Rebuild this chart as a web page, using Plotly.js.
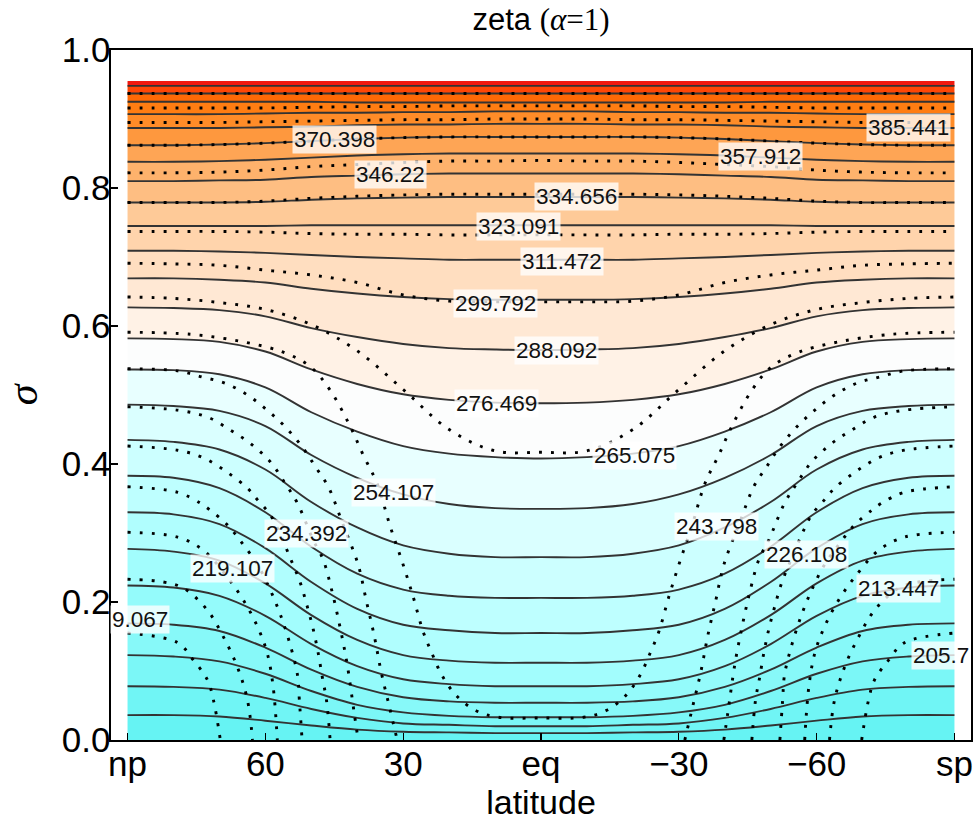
<!DOCTYPE html>
<html>
<head>
<meta charset="utf-8">
<script src="https://cdn.plot.ly/plotly-3.0.1.min.js"></script>
<style>html,body{margin:0;padding:0;background:#fff;}</style>
</head>
<body>
<div id="chart" style="width:977px;height:827px;"></div>
<script>
// ---------- data ----------
const lats = [90,80,70,60,50,40,30,20,10,0,-10,-20,-30,-40,-50,-60,-70,-80,-90];
const sigmaTop    = [0.955,0.955,0.955,0.955,0.955,0.955,0.955,0.955,0.955,0.955,0.955,0.955,0.955,0.955,0.955,0.955,0.955,0.955,0.955];
const sigmaBottom = [0,0,0,0,0,0,0,0,0,0,0,0,0,0,0,0,0,0,0];

// solid contours (zeta), top to bottom
const solid01 = [0.948,0.948,0.948,0.948,0.948,0.948,0.948,0.948,0.948,0.948,0.948,0.948,0.948,0.948,0.948,0.948,0.948,0.948,0.948];
const solid02 = [0.937,0.937,0.937,0.937,0.937,0.937,0.937,0.937,0.937,0.937,0.937,0.937,0.937,0.937,0.937,0.937,0.937,0.937,0.937];
const solid03 = [0.925,0.925,0.925,0.925,0.925,0.924,0.924,0.924,0.924,0.924,0.924,0.924,0.924,0.924,0.925,0.925,0.925,0.925,0.925];
const solid04 = [0.907,0.907,0.907,0.908,0.909,0.909,0.910,0.910,0.911,0.911,0.911,0.910,0.910,0.909,0.909,0.908,0.907,0.907,0.907];
const solid05 = [0.887,0.887,0.887,0.888,0.889,0.891,0.892,0.892,0.893,0.893,0.893,0.892,0.892,0.891,0.889,0.888,0.887,0.887,0.887];
const solid06 = [0.862,0.862,0.863,0.865,0.868,0.871,0.873,0.874,0.874,0.874,0.874,0.874,0.873,0.871,0.868,0.865,0.863,0.862,0.862];
const solid07 = [0.838,0.838,0.839,0.841,0.844,0.847,0.849,0.850,0.850,0.850,0.850,0.850,0.849,0.847,0.844,0.841,0.839,0.838,0.838];
const solid08 = [0.810,0.810,0.811,0.812,0.816,0.818,0.820,0.821,0.821,0.821,0.821,0.821,0.820,0.818,0.816,0.812,0.811,0.810,0.810];
const solid09 = [0.779,0.779,0.779,0.780,0.783,0.785,0.786,0.787,0.787,0.787,0.787,0.787,0.786,0.785,0.783,0.780,0.779,0.779,0.779];
const solid10 = [0.745,0.745,0.745,0.745,0.746,0.746,0.746,0.746,0.746,0.746,0.746,0.746,0.746,0.746,0.746,0.745,0.745,0.745,0.745];
const solid11 = [0.709,0.709,0.708,0.706,0.703,0.700,0.698,0.696,0.696,0.696,0.696,0.696,0.698,0.700,0.703,0.706,0.708,0.709,0.709];
const solid12 = [0.669,0.669,0.667,0.663,0.654,0.647,0.642,0.639,0.638,0.638,0.638,0.639,0.642,0.647,0.654,0.663,0.667,0.669,0.669];
const solid13 = [0.627,0.626,0.623,0.614,0.597,0.584,0.574,0.568,0.566,0.565,0.566,0.568,0.574,0.584,0.597,0.614,0.623,0.626,0.627];
const solid14 = [0.582,0.581,0.577,0.563,0.537,0.516,0.501,0.493,0.489,0.488,0.489,0.493,0.501,0.516,0.537,0.563,0.577,0.581,0.582];
const solid15 = [0.537,0.536,0.530,0.511,0.475,0.447,0.426,0.415,0.410,0.408,0.410,0.415,0.426,0.447,0.475,0.511,0.530,0.536,0.537];
const solid16 = [0.486,0.484,0.477,0.455,0.413,0.380,0.356,0.342,0.336,0.335,0.336,0.342,0.356,0.380,0.413,0.455,0.477,0.484,0.486];
const solid17 = [0.435,0.432,0.421,0.392,0.345,0.308,0.282,0.270,0.265,0.265,0.265,0.270,0.282,0.308,0.345,0.392,0.421,0.432,0.435];
const solid18 = [0.383,0.380,0.365,0.330,0.280,0.241,0.218,0.209,0.206,0.206,0.206,0.209,0.218,0.241,0.280,0.330,0.365,0.380,0.383];
const solid19 = [0.330,0.327,0.313,0.278,0.229,0.190,0.167,0.159,0.155,0.155,0.155,0.159,0.167,0.190,0.229,0.278,0.313,0.327,0.330];
const solid20 = [0.277,0.273,0.260,0.227,0.181,0.145,0.123,0.115,0.112,0.112,0.112,0.115,0.123,0.145,0.181,0.227,0.260,0.273,0.277];
const solid21 = [0.224,0.221,0.209,0.180,0.139,0.107,0.088,0.081,0.078,0.078,0.078,0.081,0.088,0.107,0.139,0.180,0.209,0.221,0.224];
const solid22 = [0.169,0.167,0.158,0.134,0.102,0.077,0.062,0.056,0.054,0.054,0.054,0.056,0.062,0.077,0.102,0.134,0.158,0.167,0.169];
const solid23 = [0.123,0.121,0.114,0.096,0.071,0.051,0.040,0.035,0.033,0.033,0.033,0.035,0.040,0.051,0.071,0.096,0.114,0.121,0.123];
const solid24 = [0.078,0.077,0.073,0.061,0.045,0.032,0.024,0.022,0.020,0.020,0.020,0.022,0.024,0.032,0.045,0.061,0.073,0.077,0.078];
const solid25 = [0.036,0.036,0.034,0.028,0.021,0.015,0.012,0.011,0.010,0.010,0.010,0.011,0.012,0.015,0.021,0.028,0.034,0.036,0.036];

// dotted contours on the common latitude grid
const dot01 = [0.937,0.937,0.937,0.937,0.937,0.937,0.937,0.937,0.937,0.937,0.937,0.937,0.937,0.937,0.937,0.937,0.937,0.937,0.937];
const dot02 = [0.916,0.916,0.916,0.916,0.917,0.918,0.918,0.919,0.919,0.919,0.919,0.919,0.918,0.918,0.917,0.916,0.916,0.916,0.916];
const dot03 = [0.895,0.895,0.895,0.896,0.897,0.898,0.899,0.899,0.900,0.900,0.900,0.899,0.899,0.898,0.897,0.896,0.895,0.895,0.895];
const dot04 = [0.862,0.862,0.863,0.865,0.868,0.871,0.873,0.874,0.874,0.874,0.874,0.874,0.873,0.871,0.868,0.865,0.863,0.862,0.862];
const dot05 = [0.822,0.822,0.823,0.826,0.831,0.834,0.837,0.839,0.839,0.840,0.839,0.839,0.837,0.834,0.831,0.826,0.823,0.822,0.822];
const dot06 = [0.779,0.779,0.779,0.781,0.785,0.788,0.790,0.791,0.791,0.791,0.791,0.791,0.790,0.788,0.785,0.781,0.779,0.779,0.779];
const dot07 = [0.737,0.737,0.737,0.736,0.734,0.733,0.733,0.732,0.732,0.732,0.732,0.732,0.733,0.733,0.734,0.736,0.737,0.737,0.737];
const dot08 = [0.691,0.690,0.688,0.681,0.674,0.663,0.645,0.636,0.635,0.635,0.635,0.636,0.645,0.663,0.674,0.681,0.688,0.690,0.691];
const dot09 = [0.642,0.640,0.634,0.624,0.602,0.564,0.508,0.450,0.419,0.417,0.419,0.450,0.508,0.564,0.602,0.624,0.634,0.640,0.642];

// dotted contours with their own latitude points
const dot10Lat = [90,76.3,64.8,56.1,50.2,45.9,41.5,38.7,35.7,32.8,30.2,27.8,25.7,23.7,21.5,18.5,14.3,9.3,0,-9.3,-14.3,-18.5,-21.5,-23.7,-25.7,-27.8,-30.2,-32.8,-35.7,-38.7,-41.5,-45.9,-50.2,-56.1,-64.8,-76.3,-90];
const dot10Sig = [0.591,0.588,0.577,0.562,0.541,0.507,0.454,0.413,0.372,0.309,0.258,0.207,0.158,0.125,0.093,0.065,0.043,0.033,0.032,0.033,0.043,0.065,0.093,0.125,0.158,0.207,0.258,0.309,0.372,0.413,0.454,0.507,0.541,0.562,0.577,0.588,0.591];
const dot11Lat = [90,79.1,73.7,68.7,63.9,59.6,55.7,52.0,49.1,46.3,43.3,39.8,38.0,36.3,34.8,33.0,31.3,null,-31.3,-33.0,-34.8,-36.3,-38.0,-39.8,-43.3,-46.3,-49.1,-52.0,-55.7,-59.6,-63.9,-68.7,-73.7,-79.1,-90];
const dot11Sig = [0.538,0.535,0.526,0.517,0.500,0.478,0.454,0.425,0.396,0.367,0.316,0.254,0.201,0.151,0.099,0.048,0,null,0,0.048,0.099,0.151,0.201,0.254,0.316,0.367,0.396,0.425,0.454,0.478,0.500,0.517,0.526,0.535,0.538];
const dot12Lat = [90,79.1,72.6,67.6,63.3,58.9,55.7,53.0,49.6,47.4,45.4,43.7,42.2,40.7,39.8,null,-39.8,-40.7,-42.2,-43.7,-45.4,-47.4,-49.6,-53.0,-55.7,-58.9,-63.3,-67.6,-72.6,-79.1,-90];
const dot12Sig = [0.483,0.478,0.468,0.449,0.430,0.403,0.372,0.343,0.290,0.261,0.213,0.162,0.110,0.041,0,null,0,0.041,0.110,0.162,0.213,0.261,0.290,0.343,0.372,0.403,0.430,0.449,0.468,0.478,0.483];
const dot13Lat = [90,79.1,73.5,68.3,63.9,61.7,58.9,56.7,54.6,52.4,50.9,49.6,48.5,47.6,46.7,45.9,null,-45.9,-46.7,-47.6,-48.5,-49.6,-50.9,-52.4,-54.6,-56.7,-58.9,-61.7,-63.9,-68.3,-73.5,-79.1,-90];
const dot13Sig = [0.426,0.420,0.409,0.388,0.365,0.348,0.326,0.297,0.264,0.228,0.194,0.161,0.126,0.091,0.058,0,null,0,0.058,0.091,0.126,0.161,0.194,0.228,0.264,0.297,0.326,0.348,0.365,0.388,0.409,0.420,0.426];
const dot14Lat = [90,79.1,74.1,72.0,68.3,64.8,61.7,58.9,56.7,54.6,53.0,52.6,52.0,null,-52.0,-52.6,-53.0,-54.6,-56.7,-58.9,-61.7,-64.8,-68.3,-72.0,-74.1,-79.1,-90];
const dot14Sig = [0.367,0.359,0.343,0.333,0.312,0.283,0.254,0.217,0.181,0.138,0.094,0.058,0,null,0,0.058,0.094,0.138,0.181,0.217,0.254,0.283,0.312,0.333,0.343,0.359,0.367];
const dot15Lat = [90,79.1,73.5,68.3,64.8,61.7,59.6,58.3,57.4,null,-57.4,-58.3,-59.6,-61.7,-64.8,-68.3,-73.5,-79.1,-90];
const dot15Sig = [0.301,0.294,0.275,0.236,0.203,0.164,0.126,0.077,0,null,0,0.077,0.126,0.164,0.203,0.236,0.275,0.294,0.301];
const dot16Lat = [90,82.2,77.8,72.6,69.1,66.1,63.9,62.8,null,-62.8,-63.9,-66.1,-69.1,-72.6,-77.8,-82.2,-90];
const dot16Sig = [0.233,0.229,0.220,0.188,0.149,0.106,0.058,0,null,0,0.058,0.106,0.149,0.188,0.220,0.229,0.233];
const dot17Lat = [90,79.1,75.7,72.6,71.3,69.8,null,-69.8,-71.3,-72.6,-75.7,-79.1,-90];
const dot17Sig = [0.155,0.141,0.116,0.087,0.058,0,null,0,0.058,0.087,0.116,0.141,0.155];

// contour labels
const labelText = ['385.441','370.398','357.912','346.22','334.656','323.091','311.472','299.792','288.092','276.469','265.075','254.107','243.798','234.392','226.108','219.107','213.447','9.067','205.7'];

// ticks
const xTickVals = [90,60,30,0,-30,-60,-90];
const xTickText = ['np','60','30','eq','\u221230','\u221260','sp'];
const yTickVals = [0,0.2,0.4,0.6,0.8,1.0];
const yTickText = ['0.0','0.2','0.4','0.6','0.8','1.0'];

// ---------- layout / styling ----------
const labelLat = [-80.0,45.0,-47.8,32.8,-7.8,4.8,-4.6,9.8,-3.3,9.6,-20.4,32.0,-38.3,51.1,-57.8,67.2,-77.8,87.2,-87.1];
const labelSig = [0.887,0.870,0.846,0.820,0.788,0.744,0.693,0.633,0.564,0.488,0.413,0.359,0.309,0.299,0.269,0.249,0.220,0.174,0.123];

const bandColors = [
  'rgb(240,25,15)','rgb(255,70,5)','rgb(255,105,5)','rgb(255,125,18)','rgb(255,140,40)',
  'rgb(254,152,62)','rgb(254,165,85)','rgb(254,178,108)','rgb(254,190,130)','rgb(254,202,152)',
  'rgb(255,212,172)','rgb(255,222,192)','rgb(255,232,212)','rgb(255,242,230)','rgb(252,253,253)',
  'rgb(232,255,255)','rgb(218,255,255)','rgb(204,255,255)','rgb(190,255,255)','rgb(176,254,254)',
  'rgb(162,253,253)','rgb(148,251,251)','rgb(135,249,249)','rgb(123,247,247)','rgb(112,245,245)',
  'rgb(102,243,243)'
];

const solidLines = [solid01,solid02,solid03,solid04,solid05,solid06,solid07,solid08,solid09,solid10,
  solid11,solid12,solid13,solid14,solid15,solid16,solid17,solid18,solid19,solid20,solid21,solid22,solid23,solid24,solid25];
const dotGrid = [dot01,dot02,dot03,dot04,dot05,dot06,dot07,dot08,dot09];
const dotOwn = [[dot10Lat,dot10Sig],[dot11Lat,dot11Sig],[dot12Lat,dot12Sig],[dot13Lat,dot13Sig],
  [dot14Lat,dot14Sig],[dot15Lat,dot15Sig],[dot16Lat,dot16Sig],[dot17Lat,dot17Sig]];

const base = {mode:'lines', hoverinfo:'skip', showlegend:false};
const traces = [];
traces.push(Object.assign({}, base, {x:lats, y:sigmaBottom, line:{width:0, shape:'spline'}}));
for (let k = solidLines.length - 1; k >= 0; k--) {
  traces.push(Object.assign({}, base, {x:lats, y:solidLines[k], line:{width:0, shape:'spline'},
    fill:'tonexty', fillcolor:bandColors[k+1]}));
}
traces.push(Object.assign({}, base, {x:lats, y:sigmaTop, line:{width:0, shape:'spline'},
  fill:'tonexty', fillcolor:bandColors[0]}));

solidLines.forEach(s => traces.push(Object.assign({}, base, {x:lats, y:s,
  line:{color:'#333333', width:1.9, shape:'spline'}})));

const dotStyle = {color:'#000', width:2.9, dash:'2.9px,9.1px', shape:'spline'};
dotGrid.forEach(s => traces.push(Object.assign({}, base, {x:lats, y:s, line:dotStyle})));
dotOwn.forEach(p => traces.push(Object.assign({}, base, {x:p[0], y:p[1], line:dotStyle})));

const sansFam = 'Liberation Sans, Arial, sans-serif';
const annotations = labelText.map((t, i) => ({
  x: labelLat[i], y: labelSig[i], xref:'x', yref:'y', text:t, showarrow:false,
  font:{family:sansFam, size:22.5, color:'#111'},
  bgcolor:'rgba(255,255,255,0.78)', borderpad:1
}));

const axisCommon = {
  showgrid:false, zeroline:false, showline:true, linecolor:'#000', linewidth:1.6, mirror:true,
  ticks:'inside', ticklen:7, tickwidth:1.3, tickcolor:'#000',
  tickfont:{family:sansFam, size:35, color:'#000'}
};

const layout = {
  width:977, height:827,
  margin:{l:111, r:6, t:50, b:87},
  paper_bgcolor:'#fff', plot_bgcolor:'#fff',
  hovermode:false,
  title:{text:'<span style="font-family:Liberation Sans">zeta </span><span style="font-family:Liberation Serif">(<i>\u03b1</i>=1)</span>',
    font:{family:sansFam, size:31, color:'#000'},
    x:0.5, xref:'paper', y:0.977, yref:'container', yanchor:'middle'},
  xaxis: Object.assign({}, axisCommon, {range:[93.6,-93.6], tickmode:'array', tickvals:xTickVals, ticktext:xTickText,
    ticklabelstandoff:-8,
    title:{text:'latitude', font:{family:sansFam, size:34, color:'#000'}, standoff:3}}),
  yaxis: Object.assign({}, axisCommon, {range:[0,1], tickmode:'array', tickvals:yTickVals, ticktext:yTickText,
    ticklabelstandoff:-8,
    title:{text:'<i>\u03c3</i>', font:{family:'Liberation Serif, serif', size:42, color:'#000'}, standoff:14}}),
  annotations: annotations
};

Plotly.newPlot('chart', traces, layout, {displayModeBar:false, staticPlot:true});
</script>
</body>
</html>
